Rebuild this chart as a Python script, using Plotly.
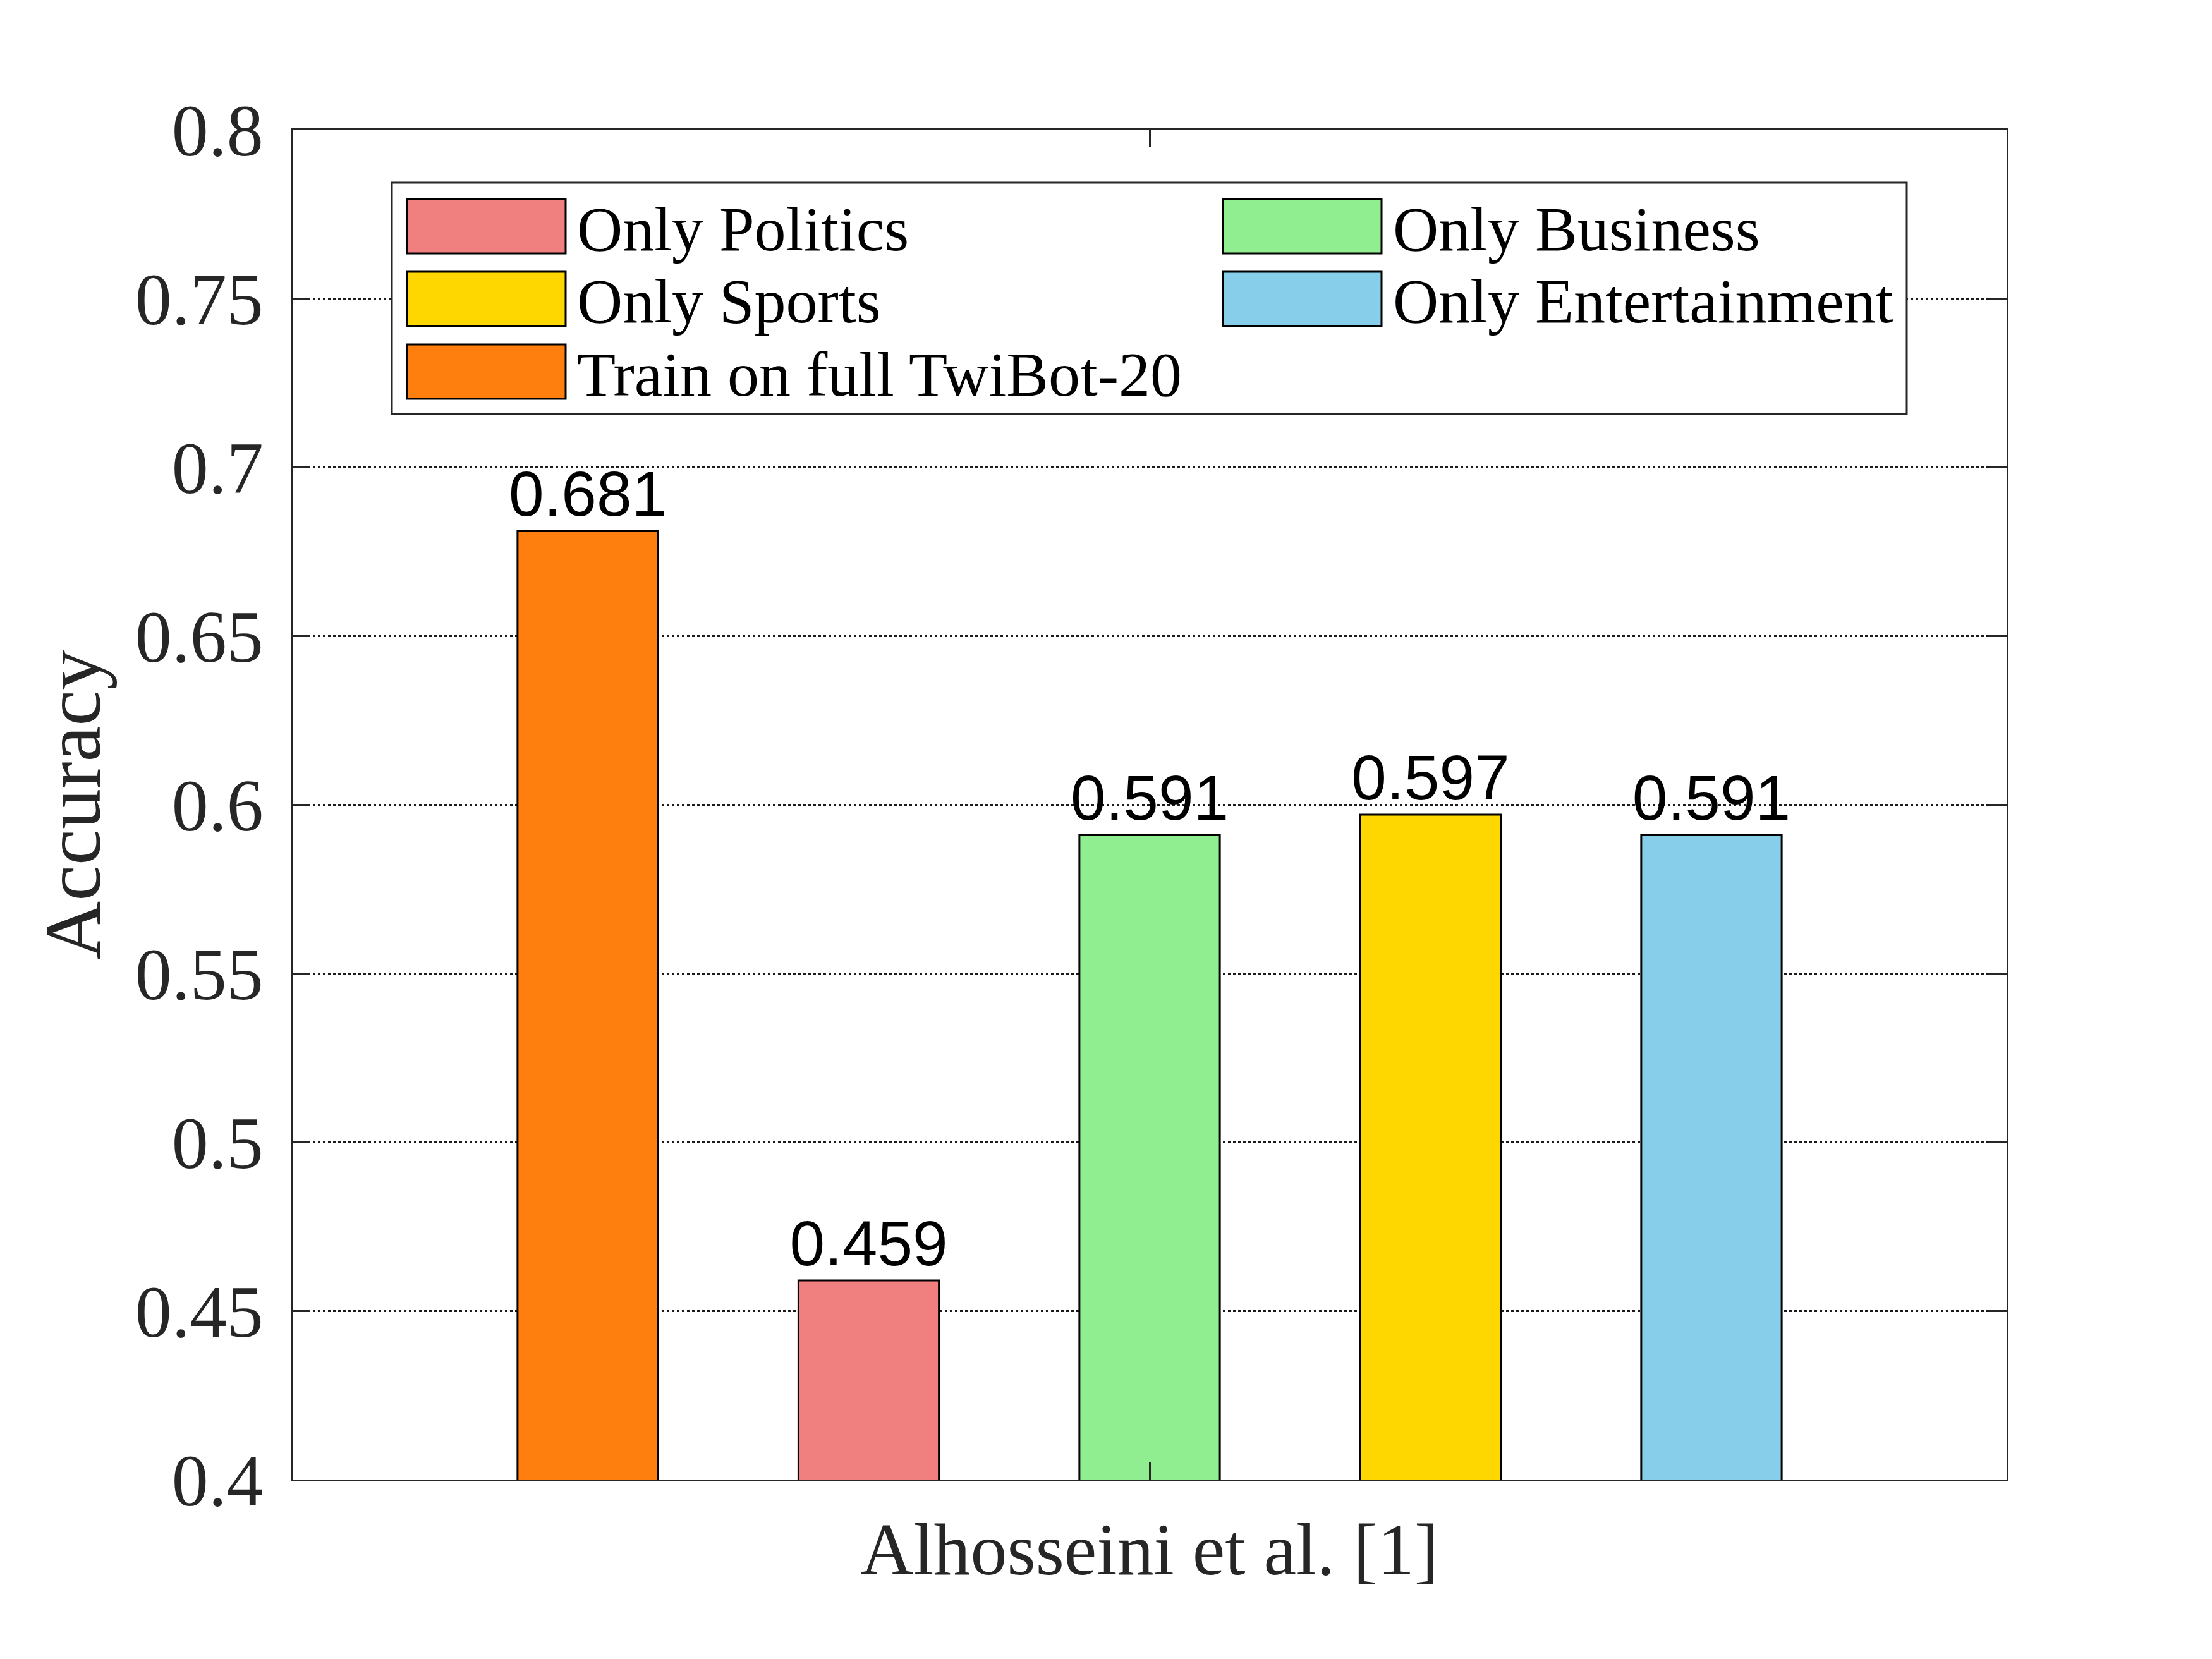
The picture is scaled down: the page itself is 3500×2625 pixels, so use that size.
import plotly.graph_objects as go

# ---------------- data ----------------
group_label = ["Alhosseini et al. [1]"]
series_names = ["Train on full TwiBot-20", "Only Politics", "Only Business",
                "Only Sports", "Only Entertainment"]
series_values = [0.681, 0.459, 0.591, 0.597, 0.591]
series_colors = ["#FF7F0E", "#F08080", "#90EE90", "#FFD700", "#87CEEB"]
legend_order = ["Only Politics", "Only Business", "Only Sports",
                "Only Entertainment", "Train on full TwiBot-20"]
y_tick_values = [0.4, 0.45, 0.5, 0.55, 0.6, 0.65, 0.7, 0.75, 0.8]
y_tick_labels = ["0.4", "0.45", "0.5", "0.55", "0.6", "0.65", "0.7", "0.75", "0.8"]
y_title = "Accuracy"

# ---------------- layout constants (pixels) ----------------
FIG_W, FIG_H = 3500, 2625
L, R, T, B = 455, 333, 197, 292
PW, PH = FIG_W - L - R, FIG_H - T - B
AX = "#262626"
SERIF = "Liberation Serif"
SANS = "Liberation Sans"


def px_x(px):
    return (px - L) / PW


def px_y(py):
    return 1 - (py - T) / PH


fig = go.Figure()
for name, val, col in zip(series_names, series_values, series_colors):
    fig.add_trace(go.Bar(
        x=group_label, y=[val], name=name,
        marker=dict(color=col, line=dict(color="#000000", width=3)),
        text=[f"{val:.3f}"], textposition="outside",
        textfont=dict(family=SANS, size=100, color="#000000"),
        constraintext="none", cliponaxis=False, showlegend=False,
    ))

# ---------------- manual legend (2 columns, MATLAB style) ----------------
shapes = []
annotations = []
box = (612, 281, 3009, 647)
shapes.append(dict(type="rect", xref="paper", yref="paper",
                   x0=px_x(box[0]), x1=px_x(box[2]),
                   y0=px_y(box[3]), y1=px_y(box[1]),
                   fillcolor="white", line=dict(color=AX, width=3), layer="above"))
col_x = [636, 1927]
row_y = 307
row_pitch = 115
sw_w, sw_h = 251, 86
color_of = dict(zip(series_names, series_colors))
for i, name in enumerate(legend_order):
    c, r = i % 2, i // 2
    x0 = col_x[c]
    y0 = row_y + r * row_pitch
    shapes.append(dict(type="rect", xref="paper", yref="paper",
                       x0=px_x(x0), x1=px_x(x0 + sw_w),
                       y0=px_y(y0 + sw_h), y1=px_y(y0),
                       fillcolor=color_of[name],
                       line=dict(color="#000000", width=3), layer="above"))
    annotations.append(dict(xref="paper", yref="paper",
                            x=px_x(x0 + sw_w + 16), y=px_y(y0 + sw_h / 2 + 4),
                            xanchor="left", yanchor="middle", showarrow=False,
                            text=name, font=dict(family=SERIF, size=100, color="#000000")))

fig.update_layout(
    width=FIG_W, height=FIG_H,
    margin=dict(l=L, r=R, t=T, b=B, autoexpand=False),
    paper_bgcolor="white", plot_bgcolor="white",
    barmode="group", bargap=0.1805, bargroupgap=0.5,
    shapes=shapes, annotations=annotations,
    xaxis=dict(type="category", range=[-0.5, 0.5],
               showline=True, linecolor=AX, linewidth=3, mirror="ticks",
               ticks="inside", ticklen=28, tickwidth=3, tickcolor=AX,
               showgrid=False,
               tickfont=dict(family=SERIF, size=116, color=AX),
               ticklabelstandoff=8),
    yaxis=dict(range=[0.4, 0.8], tickmode="array",
               tickvals=y_tick_values, ticktext=y_tick_labels,
               showline=True, linecolor=AX, linewidth=3, mirror="ticks",
               ticks="inside", ticklen=28, tickwidth=3, tickcolor=AX,
               showgrid=True, gridcolor="#1a1a1a", gridwidth=3, griddash="4px,4px",
               zeroline=False,
               tickfont=dict(family=SERIF, size=116, color=AX),
               ticklabelstandoff=20,
               title=dict(text=y_title, font=dict(family=SERIF, size=128, color=AX),
                          standoff=12)),
    font=dict(family=SERIF, color=AX),
)

fig.write_html("out.html")
